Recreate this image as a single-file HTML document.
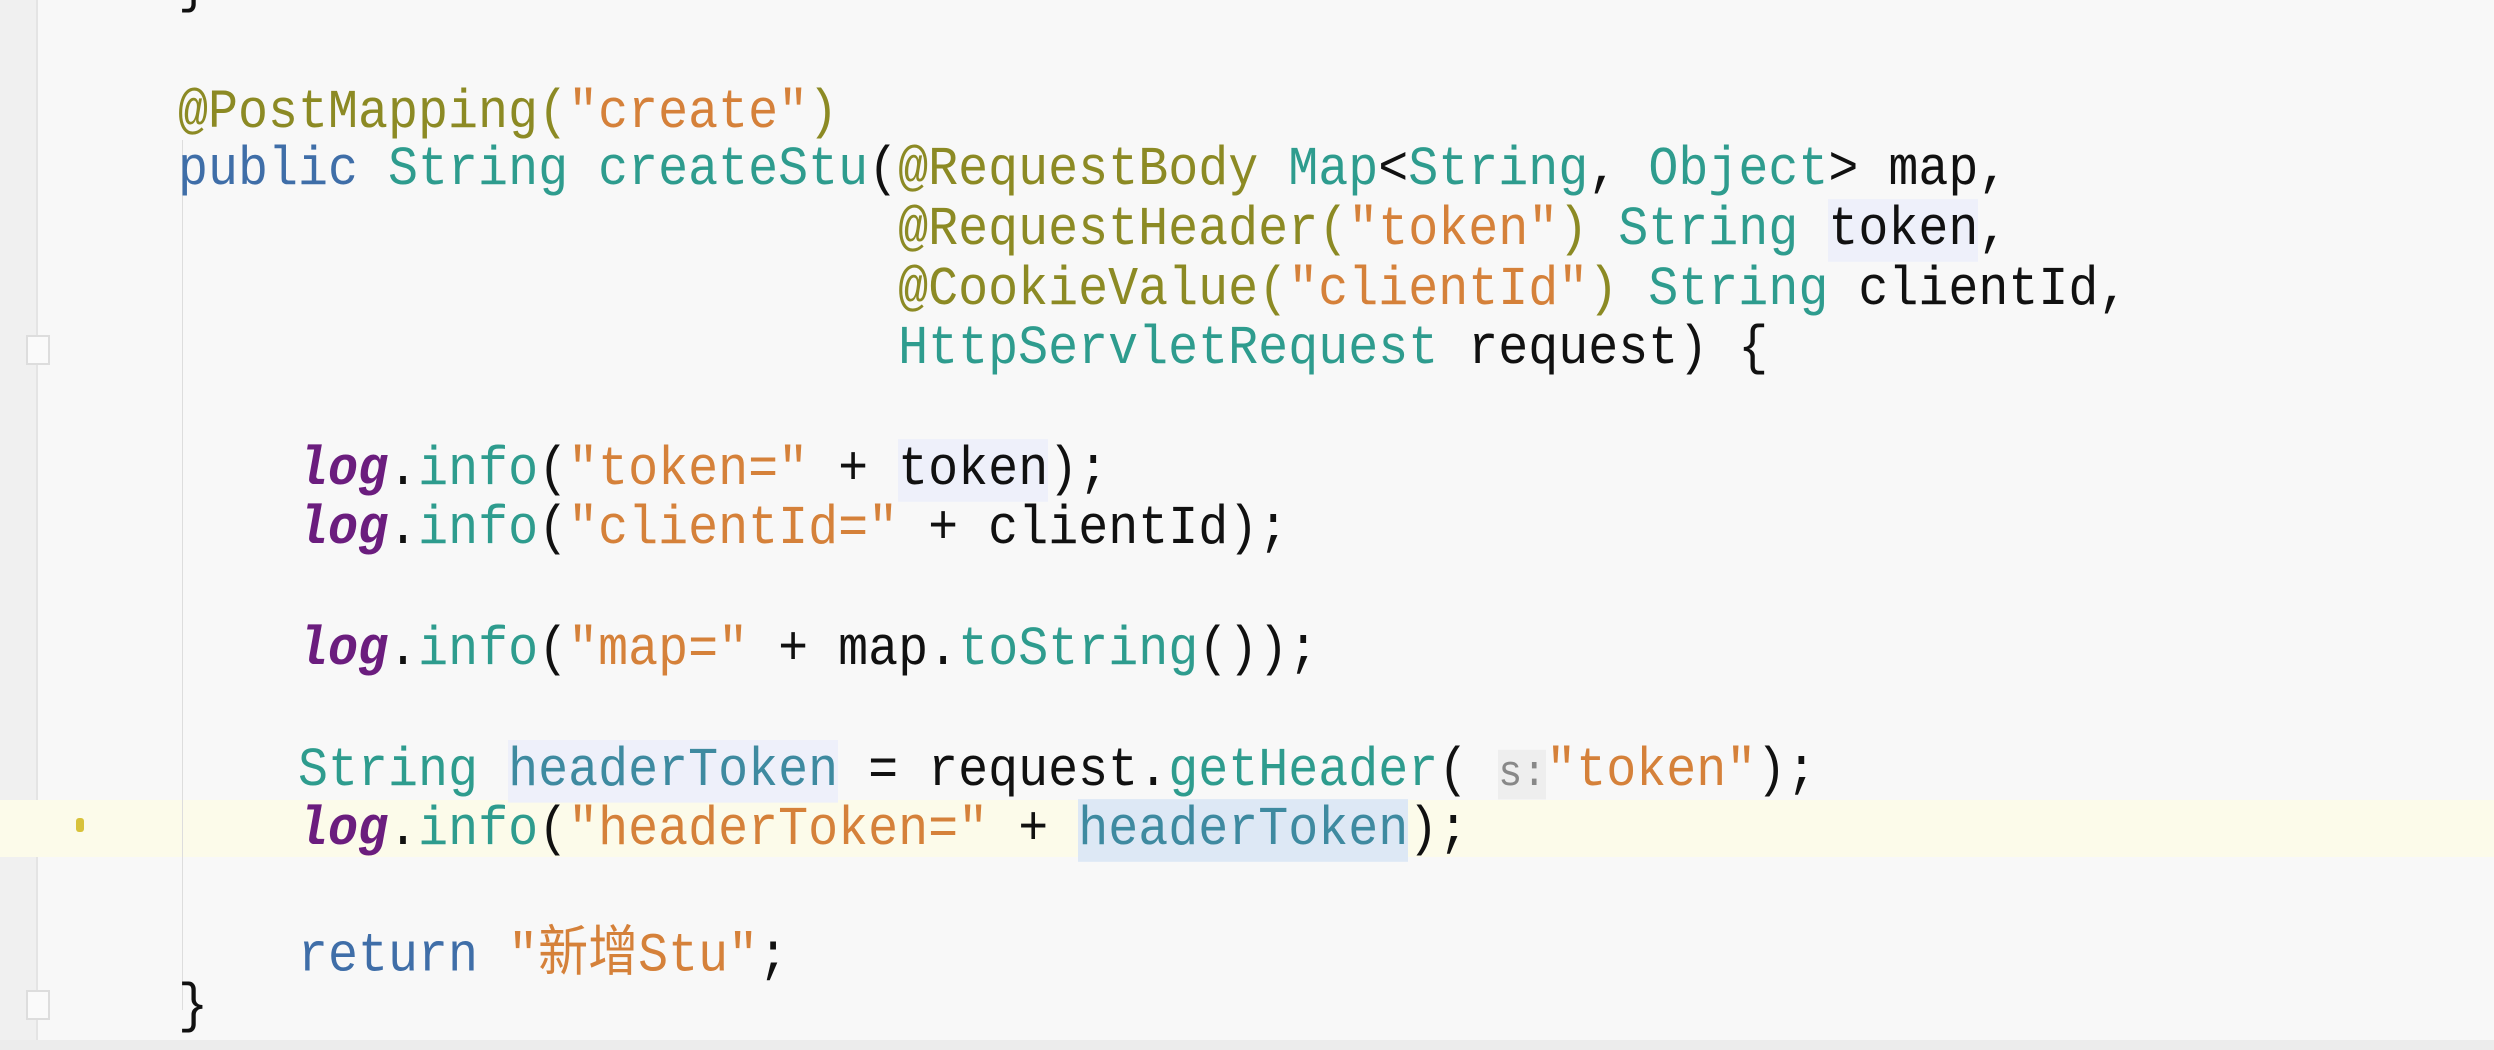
<!DOCTYPE html>
<html><head><meta charset="utf-8"><style>
html,body{margin:0;padding:0;}
body{width:2494px;height:1050px;background:#f8f8f8;position:relative;overflow:hidden;font-family:"Liberation Mono","Noto Sans CJK SC",monospace;}
.gut{position:absolute;left:0;top:0;width:36px;height:1050px;background:#f0f0f0;border-right:2px solid #e4e4e4;}
.hl{position:absolute;left:0;top:800px;width:2494px;height:57px;background:#fcfbea;}
.bot{position:absolute;left:0;top:1040px;width:2494px;height:10px;background:#ececec;}
.ln{position:absolute;left:178px;font-size:50px;line-height:60px;white-space:pre;color:#111;transform:scaleY(1.1);transform-origin:0 50%;}
.a{color:#8c8a24}.s{color:#d5813a}.k{color:#3f6ea8}.t{color:#2e9c8e}.l{color:#6b1d7e;font-weight:bold;font-style:italic}
.v{color:#3e8aa0}.hv{background:#eef0fa}.sel{background:#dde8f5}
.hint{color:#888;font-size:40px;background:#eeeeee;}
.cjk{font-family:"Noto Sans CJK SC",sans-serif;}
.fold{position:absolute;left:26px;width:20px;height:26px;border:2px solid #ddd;background:#fafafa;}
.ind{position:absolute;left:182px;width:1px;background:#ddd;}
</style></head><body>
<div class="gut"></div>
<div class="hl"></div>
<div class="bot"></div>
<div class="ind" style="top:140px;height:870px"></div>
<div class="fold" style="top:335px"></div>
<div class="fold" style="top:990px"></div>
<div style="position:absolute;left:76px;top:818px;width:8px;height:14px;background:#d8c23a;border-radius:3px"></div>
<div class="ln" style="top:-42px">}</div>
<div class="ln" style="top:84px"><span class="a">@PostMapping(</span><span class="s">"create"</span><span class="a">)</span></div>
<div class="ln" style="top:141px"><span class="k">public</span> <span class="t">String</span> <span class="t">createStu</span>(<span class="a">@RequestBody</span> <span class="t">Map</span>&lt;<span class="t">String</span>, <span class="t">Object</span>&gt; map,</div>
<div class="ln" style="top:201px">                        <span class="a">@RequestHeader(</span><span class="s">"token"</span><span class="a">)</span> <span class="t">String</span> <span class="hv">token</span>,</div>
<div class="ln" style="top:261px">                        <span class="a">@CookieValue(</span><span class="s">"clientId"</span><span class="a">)</span> <span class="t">String</span> clientId,</div>
<div class="ln" style="top:320px">                        <span class="t">HttpServletRequest</span> request) {</div>
<div class="ln" style="top:441px">    <span class="l">log</span>.<span class="t">info</span>(<span class="s">"token="</span> + <span class="hv">token</span>);</div>
<div class="ln" style="top:500px">    <span class="l">log</span>.<span class="t">info</span>(<span class="s">"clientId="</span> + clientId);</div>
<div class="ln" style="top:621px">    <span class="l">log</span>.<span class="t">info</span>(<span class="s">"map="</span> + map.<span class="t">toString</span>());</div>
<div class="ln" style="top:742px">    <span class="t">String</span> <span class="v hv">headerToken</span> = request.<span class="t">getHeader</span>( <span class="hint">s:</span><span class="s">"token"</span>);</div>
<div class="ln" style="top:801px">    <span class="l">log</span>.<span class="t">info</span>(<span class="s">"headerToken="</span> + <span class="v sel">headerToken</span>);</div>
<div class="ln" style="top:918px">    <span class="k">return</span> <span class="s">"<span class="cjk">新增</span>Stu"</span>;</div>
<div class="ln" style="top:978px">}</div>
</body></html>
